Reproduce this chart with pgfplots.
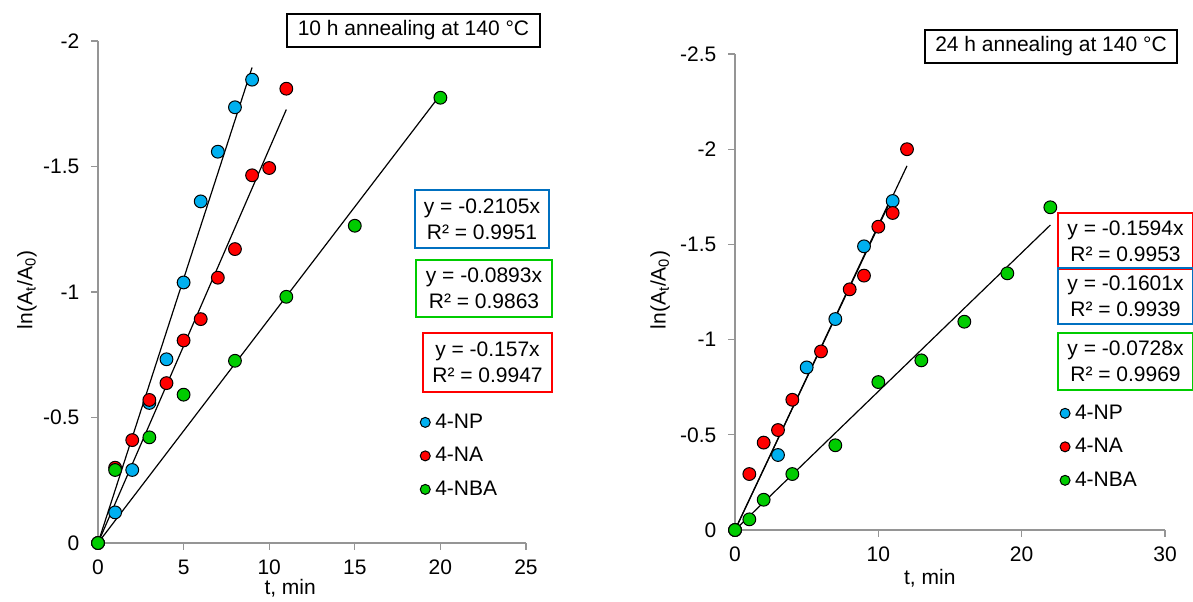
\documentclass[border=0pt]{standalone}
\usepackage{fontspec}
\setmainfont{Liberation Sans}
\usepackage{pgfplots}
\pgfplotsset{compat=1.18}
\definecolor{npblue}{HTML}{00B0F0}
\definecolor{nared}{HTML}{FF0000}
\definecolor{nbagreen}{HTML}{00CC00}
\definecolor{boxblue}{HTML}{0070C0}
\definecolor{axgray}{HTML}{959595}
\newcommand{\fsz}{\fontsize{10.5}{13}\selectfont}
\pgfplotsset{
  kin/.style={
    scale only axis, clip=false,
    axis x line*=bottom, axis y line*=left,
    axis line style={axgray, line width=0.6pt},
    y dir=reverse,
    xtick align=outside, ytick align=outside,
    major tick length=3.3pt,
    tick style={axgray, line width=0.6pt},
    /pgf/number format/assume math mode=true,
    tick label style={font=\fsz},
    xticklabel style={yshift=-1.5pt},
    yticklabel style={xshift=-2.5pt},
    label style={font=\fsz},
    legend style={draw=none, fill=none, inner sep=0pt, font=\fsz, row sep=6.75pt,
      nodes={inner xsep=2.5pt, inner ysep=0pt, text height=8pt, text depth=2pt}},
    legend cell align=left,
    legend image code/.code={\draw[##1] plot coordinates {(0pt,0pt)};},
  },
  mk/.style={only marks, mark=*, mark size=3.2pt, forget plot,
    mark options={draw=black, fill=#1, line width=0.5pt}},
  lg/.style={only marks, mark=*, mark size=2.5pt,
    mark options={draw=black, fill=#1, line width=0.5pt}},
  fit/.style={black, line width=0.6pt, no marks, forget plot},
}
\begin{document}
\begin{tikzpicture}[font=\fsz]
\useasboundingbox (0,0) rectangle (596.5pt,300.5pt);

% 10 h annealing
\begin{axis}[kin, at={(49pt,29pt)}, anchor=south west, width=214pt, height=251pt,
  xmin=0, xmax=25, ymin=-2, ymax=0,
  xtick={0,5,10,15,20,25},
  ytick={-2,-1.5,-1,-0.5,0}, yticklabels={-2,-1.5,-1,-0.5,0},
  xlabel={t, min}, ylabel={ln(A\textsubscript{t}/A\textsubscript{0})},
  xlabel style={at={(axis description cs:0.449,-0.0896)}, anchor=center},
  ylabel style={at={(axis description cs:-0.166,0.504)}, anchor=center},
  legend style={at={(axis description cs:0.752,0.261)}, anchor=north west},
]
\addplot[mk=npblue] coordinates {(0,0)(1,-0.122)(2,-0.291)(3,-0.558)(4,-0.732)(5,-1.038)(6,-1.361)(7,-1.559)(8,-1.736)(9,-1.846)};
\addplot[mk=nared] coordinates {(0,0)(1,-0.300)(2,-0.410)(3,-0.570)(4,-0.637)(5,-0.807)(6,-0.892)(7,-1.057)(8,-1.171)(9,-1.465)(10,-1.494)(11,-1.810)};
\addplot[mk=nbagreen] coordinates {(0,0)(1,-0.291)(3,-0.421)(5,-0.591)(8,-0.726)(11,-0.981)(15,-1.264)(20,-1.774)};
\addplot[fit] coordinates {(0,0)(9,-1.8945)};
\addplot[fit] coordinates {(0,0)(11,-1.727)};
\addplot[fit] coordinates {(0,0)(20,-1.786)};
\addlegendimage{lg=npblue}\addlegendentry{4-NP}
\addlegendimage{lg=nared}\addlegendentry{4-NA}
\addlegendimage{lg=nbagreen}\addlegendentry{4-NBA}
\end{axis}

% 24 h annealing
\begin{axis}[kin, at={(367.5pt,35.5pt)}, anchor=south west, width=215pt, height=238pt,
  xmin=0, xmax=30, ymin=-2.5, ymax=0,
  xtick={0,10,20,30},
  ytick={-2.5,-2,-1.5,-1,-0.5,0}, yticklabels={-2.5,-2,-1.5,-1,-0.5,0},
  xlabel={t, min}, ylabel={ln(A\textsubscript{t}/A\textsubscript{0})},
  xlabel style={at={(axis description cs:0.453,-0.101)}, anchor=center},
  ylabel style={at={(axis description cs:-0.174,0.504)}, anchor=center},
  legend style={at={(axis description cs:0.755,0.267)}, anchor=north west},
]
\addplot[mk=npblue] coordinates {(0,0)(3,-0.394)(5,-0.854)(7,-1.108)(9,-1.490)(11,-1.728)};
\addplot[mk=nared] coordinates {(0,0)(1,-0.294)(2,-0.459)(3,-0.525)(4,-0.684)(6,-0.938)(8,-1.264)(9,-1.336)(10,-1.593)(11,-1.665)(12,-2.000)};
\addplot[mk=nbagreen] coordinates {(0,0)(1,-0.056)(2,-0.159)(4,-0.294)(7,-0.445)(10,-0.777)(13,-0.891)(16,-1.094)(19,-1.348)(22,-1.695)};
\addplot[fit] coordinates {(0,0)(12,-1.9128)};
\addplot[fit] coordinates {(0,0)(11,-1.7611)};
\addplot[fit] coordinates {(0,0)(22,-1.6016)};
\addlegendimage{lg=npblue}\addlegendentry{4-NP}
\addlegendimage{lg=nared}\addlegendentry{4-NA}
\addlegendimage{lg=nbagreen}\addlegendentry{4-NBA}
\end{axis}

% titles and trend-line equations (pixel coordinates of the reference)
\begin{scope}[x=0.5pt, y=-0.5pt, shift={(0pt,300.5pt)},
  every node/.style={align=center, inner sep=0pt, font=\fsz}]
\node[draw=black, line width=0.6pt, minimum width=126.5pt, minimum height=16.5pt] at (413.5,30.5) {10 h annealing at 140 °C};
\node[draw=boxblue, line width=0.75pt, minimum width=67pt, minimum height=29pt] at (482,219) {y = -0.2105x\\R² = 0.9951};
\node[draw=nbagreen, line width=0.75pt, minimum width=68pt, minimum height=28.5pt] at (484,288.5) {y = -0.0893x\\R² = 0.9863};
\node[draw=nared, line width=0.75pt, minimum width=64.5pt, minimum height=29.5pt] at (487.5,362.5) {y = -0.157x\\R² = 0.9947};
\node[draw=black, line width=0.6pt, minimum width=126pt, minimum height=16.5pt] at (1051,46.5) {24 h annealing at 140 °C};
\node[draw=nared, line width=0.75pt, minimum width=67.5pt, minimum height=28pt] at (1125.5,241) {y = -0.1594x\\R² = 0.9953};
\node[draw=boxblue, line width=0.75pt, minimum width=67.5pt, minimum height=28pt] at (1125.5,296) {y = -0.1601x\\R² = 0.9939};
\node[draw=nbagreen, line width=0.75pt, minimum width=67.5pt, minimum height=28.5pt] at (1125.5,361.5) {y = -0.0728x\\R² = 0.9969};
\end{scope}
\end{tikzpicture}
\end{document}
